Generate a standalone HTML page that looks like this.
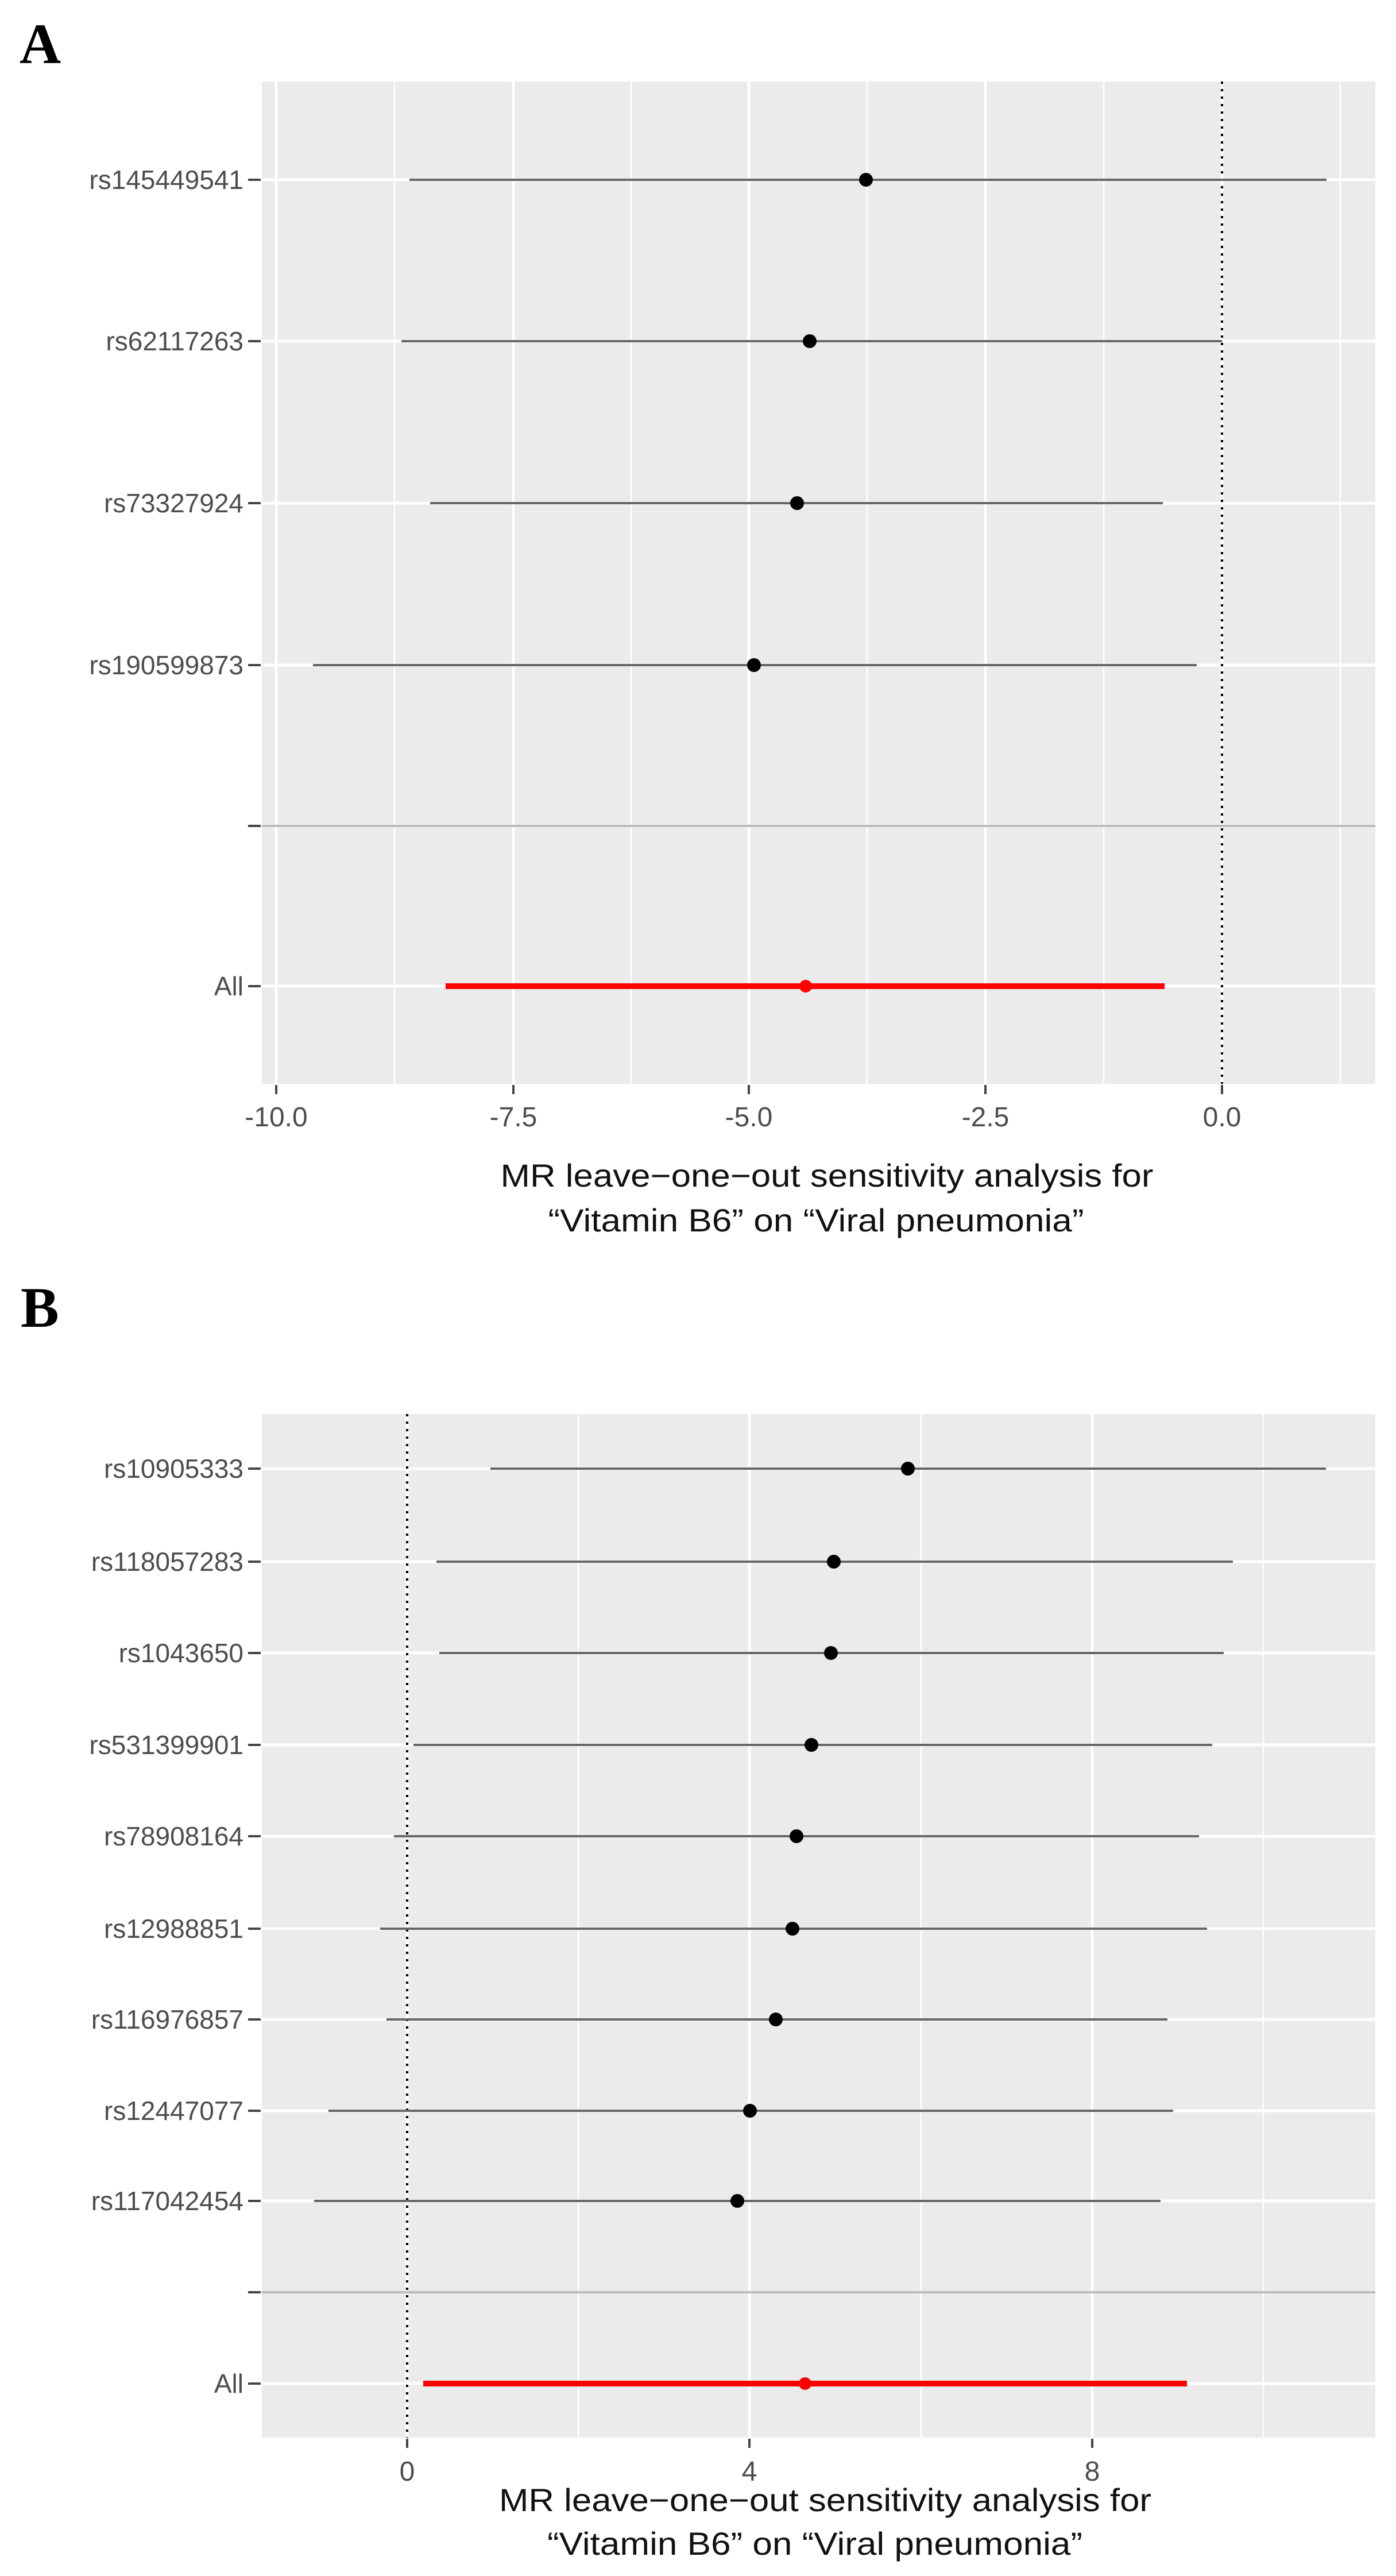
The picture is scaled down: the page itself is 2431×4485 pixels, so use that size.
<!DOCTYPE html>
<html><head><meta charset="utf-8"><style>
html,body{margin:0;padding:0;background:#fff;}
svg{display:block;}
text{font-family:"Liberation Sans",Arial,sans-serif;}
</style></head><body>
<svg width="2431" height="4485" viewBox="0 0 2431 4485" xmlns="http://www.w3.org/2000/svg">
<rect width="2431" height="4485" fill="#fff"/>
<!-- Panel A -->
<text x="34" y="110" font-family="Liberation Serif,serif" font-weight="bold" font-size="100" style="font-family:'Liberation Serif',serif">A</text>
<rect x="456" y="142" width="1939" height="1745" fill="#EBEBEB"/>
<g stroke="#fff" stroke-width="2.5">
<line x1="687" y1="142" x2="687" y2="1887"/><line x1="1099" y1="142" x2="1099" y2="1887"/>
<line x1="1510" y1="142" x2="1510" y2="1887"/><line x1="1922" y1="142" x2="1922" y2="1887"/>
<line x1="2334" y1="142" x2="2334" y2="1887"/>
</g>
<g stroke="#fff" stroke-width="5">
<line x1="481" y1="142" x2="481" y2="1887"/><line x1="894" y1="142" x2="894" y2="1887"/>
<line x1="1304" y1="142" x2="1304" y2="1887"/><line x1="1716" y1="142" x2="1716" y2="1887"/>
<line x1="2128" y1="142" x2="2128" y2="1887"/>
<line x1="456" y1="313" x2="2395" y2="313"/><line x1="456" y1="594" x2="2395" y2="594"/>
<line x1="456" y1="876" x2="2395" y2="876"/><line x1="456" y1="1158" x2="2395" y2="1158"/>
<line x1="456" y1="1438" x2="2395" y2="1438"/><line x1="456" y1="1717" x2="2395" y2="1717"/>
</g>
<line x1="456" y1="1438" x2="2395" y2="1438" stroke="#bbb" stroke-width="4"/>
<line x1="2128" y1="142" x2="2128" y2="1887" stroke="#000" stroke-width="4" stroke-dasharray="4,9"/>
<g stroke="#666" stroke-width="4">
<line x1="713" y1="313" x2="2310" y2="313"/>
<line x1="699" y1="594" x2="2128" y2="594"/>
<line x1="749" y1="876" x2="2025" y2="876"/>
<line x1="545" y1="1158" x2="2084" y2="1158"/>
</g>
<g fill="#000">
<circle cx="1508" cy="313" r="12"/><circle cx="1410" cy="594" r="12"/>
<circle cx="1388" cy="876" r="12"/><circle cx="1313" cy="1158" r="12"/>
</g>
<line x1="776" y1="1717" x2="2028" y2="1717" stroke="#f00" stroke-width="10"/>
<circle cx="1403" cy="1717" r="11" fill="#f00"/>
<g stroke="#444" stroke-width="4">
<line x1="432" y1="313" x2="454" y2="313"/><line x1="432" y1="594" x2="454" y2="594"/>
<line x1="432" y1="876" x2="454" y2="876"/><line x1="432" y1="1158" x2="454" y2="1158"/>
<line x1="432" y1="1438" x2="454" y2="1438"/><line x1="432" y1="1717" x2="454" y2="1717"/>
<line x1="481" y1="1889" x2="481" y2="1905"/><line x1="894" y1="1889" x2="894" y2="1905"/>
<line x1="1304" y1="1889" x2="1304" y2="1905"/><line x1="1716" y1="1889" x2="1716" y2="1905"/>
<line x1="2128" y1="1889" x2="2128" y2="1905"/>
</g>
<g fill="#4d4d4d" font-size="46" text-anchor="end">
<text x="424" y="329">rs145449541</text><text x="424" y="610">rs62117263</text>
<text x="424" y="892">rs73327924</text><text x="424" y="1174">rs190599873</text>
<text x="424" y="1733">All</text>
</g>
<g fill="#4d4d4d" font-size="48" text-anchor="middle">
<text x="481" y="1961">-10.0</text><text x="894" y="1961">-7.5</text>
<text x="1304" y="1961">-5.0</text><text x="1716" y="1961">-2.5</text>
<text x="2128" y="1961">0.0</text>
</g>
<g fill="#111" font-size="56" text-anchor="middle">
<text x="1440" y="2066" textLength="1137" lengthAdjust="spacingAndGlyphs">MR leave−one−out sensitivity analysis for</text>
<text x="1421" y="2144" textLength="933" lengthAdjust="spacingAndGlyphs">“Vitamin B6” on “Viral pneumonia”</text>
</g>

<!-- Panel B -->
<text x="36" y="2310" font-weight="bold" font-size="100" style="font-family:'Liberation Serif',serif">B</text>
<rect x="456" y="2462" width="1939" height="1782" fill="#EBEBEB"/>
<g stroke="#fff" stroke-width="2.5">
<line x1="1007" y1="2462" x2="1007" y2="4244"/><line x1="1604" y1="2462" x2="1604" y2="4244"/>
<line x1="2200" y1="2462" x2="2200" y2="4244"/>
</g>
<g stroke="#fff" stroke-width="5">
<line x1="709" y1="2462" x2="709" y2="4244"/><line x1="1305" y1="2462" x2="1305" y2="4244"/>
<line x1="1902" y1="2462" x2="1902" y2="4244"/>
<line x1="456" y1="2557" x2="2395" y2="2557"/><line x1="456" y1="2719" x2="2395" y2="2719"/>
<line x1="456" y1="2878" x2="2395" y2="2878"/><line x1="456" y1="3038" x2="2395" y2="3038"/>
<line x1="456" y1="3197" x2="2395" y2="3197"/><line x1="456" y1="3358" x2="2395" y2="3358"/>
<line x1="456" y1="3516" x2="2395" y2="3516"/><line x1="456" y1="3675" x2="2395" y2="3675"/>
<line x1="456" y1="3832" x2="2395" y2="3832"/><line x1="456" y1="4150" x2="2395" y2="4150"/>
</g>
<line x1="456" y1="3991" x2="2395" y2="3991" stroke="#bbb" stroke-width="4"/>
<line x1="709" y1="2462" x2="709" y2="4244" stroke="#000" stroke-width="4" stroke-dasharray="4,9"/>
<g stroke="#666" stroke-width="4">
<line x1="854" y1="2557" x2="2309" y2="2557"/>
<line x1="760" y1="2719" x2="2147" y2="2719"/>
<line x1="765" y1="2878" x2="2131" y2="2878"/>
<line x1="720" y1="3038" x2="2111" y2="3038"/>
<line x1="686" y1="3197" x2="2088" y2="3197"/>
<line x1="662" y1="3358" x2="2102" y2="3358"/>
<line x1="673" y1="3516" x2="2033" y2="3516"/>
<line x1="572" y1="3675" x2="2043" y2="3675"/>
<line x1="547" y1="3832" x2="2021" y2="3832"/>
</g>
<g fill="#000">
<circle cx="1581" cy="2557" r="12"/><circle cx="1452" cy="2719" r="12"/>
<circle cx="1447" cy="2878" r="12"/><circle cx="1413" cy="3038" r="12"/>
<circle cx="1387" cy="3197" r="12"/><circle cx="1380" cy="3358" r="12"/>
<circle cx="1351" cy="3516" r="12"/><circle cx="1306" cy="3675" r="12"/>
<circle cx="1284" cy="3832" r="12"/>
</g>
<line x1="737" y1="4150" x2="2067" y2="4150" stroke="#f00" stroke-width="10"/>
<circle cx="1402" cy="4150" r="11" fill="#f00"/>
<g stroke="#444" stroke-width="4">
<line x1="432" y1="2557" x2="454" y2="2557"/><line x1="432" y1="2719" x2="454" y2="2719"/>
<line x1="432" y1="2878" x2="454" y2="2878"/><line x1="432" y1="3038" x2="454" y2="3038"/>
<line x1="432" y1="3197" x2="454" y2="3197"/><line x1="432" y1="3358" x2="454" y2="3358"/>
<line x1="432" y1="3516" x2="454" y2="3516"/><line x1="432" y1="3675" x2="454" y2="3675"/>
<line x1="432" y1="3832" x2="454" y2="3832"/><line x1="432" y1="3991" x2="454" y2="3991"/>
<line x1="432" y1="4150" x2="454" y2="4150"/>
<line x1="709" y1="4246" x2="709" y2="4262"/><line x1="1305" y1="4246" x2="1305" y2="4262"/>
<line x1="1902" y1="4246" x2="1902" y2="4262"/>
</g>
<g fill="#4d4d4d" font-size="46" text-anchor="end">
<text x="424" y="2573">rs10905333</text><text x="424" y="2735">rs118057283</text>
<text x="424" y="2894">rs1043650</text><text x="424" y="3054">rs531399901</text>
<text x="424" y="3213">rs78908164</text><text x="424" y="3374">rs12988851</text>
<text x="424" y="3532">rs116976857</text><text x="424" y="3691">rs12447077</text>
<text x="424" y="3848">rs117042454</text><text x="424" y="4166">All</text>
</g>
<g fill="#4d4d4d" font-size="48" text-anchor="middle">
<text x="709" y="4319">0</text><text x="1305" y="4319">4</text><text x="1902" y="4319">8</text>
</g>
<g fill="#111" font-size="56" text-anchor="middle">
<text x="1437" y="4372" textLength="1136" lengthAdjust="spacingAndGlyphs">MR leave−one−out sensitivity analysis for</text>
<text x="1419" y="4448" textLength="932" lengthAdjust="spacingAndGlyphs">“Vitamin B6” on “Viral pneumonia”</text>
</g>
</svg>
</body></html>
